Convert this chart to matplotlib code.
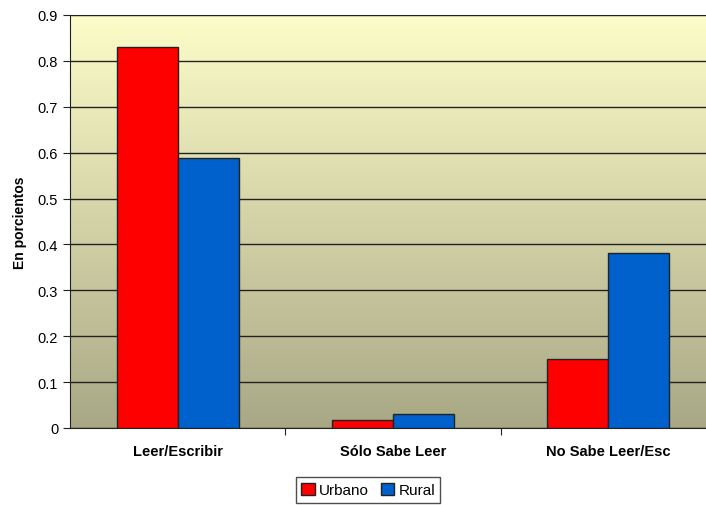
import matplotlib.pyplot as plt
import numpy as np
from matplotlib.colors import LinearSegmentedColormap

plt.rcParams['font.family'] = ['Liberation Sans', 'DejaVu Sans']

categorias = ['Leer/Escribir', 'Sólo Sabe Leer', 'No Sabe Leer/Esc']
urbano = [0.830, 0.017, 0.150]
rural = [0.588, 0.030, 0.381]
series = ['Urbano', 'Rural']

fig = plt.figure(figsize=(7.06, 5.06), dpi=100)
ax = fig.add_axes([70 / 706, 77 / 506, 646 / 706, 413 / 506])

# fondo degradado del area de trazado
fondo = LinearSegmentedColormap.from_list('fondo', ['#a9a886', '#fdfdc9'])
grad = np.linspace(0, 1, 256).reshape(-1, 1)
ax.imshow(grad, cmap=fondo, aspect='auto', origin='lower',
          extent=[-0.5, 2.5, 0, 0.9], zorder=0)

x = np.arange(len(categorias))
w = 0.284
ax.bar(x - w / 2, urbano, w, color='#ff0000', edgecolor='#222222', linewidth=1, label=series[0], zorder=3)
ax.bar(x + w / 2, rural, w, color='#0061cc', edgecolor='#222222', linewidth=1, label=series[1], zorder=3)

ax.set_xlim(-0.5, 2.5)
ax.set_ylim(0, 0.9)
ax.set_yticks(np.arange(0, 0.91, 0.1))
ax.set_yticklabels(['0'] + ['%.1f' % v for v in np.arange(0.1, 0.91, 0.1)], fontsize=10.5)
ax.yaxis.grid(True, color='#222222', linewidth=1)
ax.set_axisbelow(False)
for l in ax.get_ygridlines():
    l.set_zorder(1)

ax.set_xticks([0.5, 1.5])
ax.set_xticklabels([])
ax.tick_params(axis='both', direction='out', length=5, color='#222222')
for i, c in enumerate(categorias):
    ax.text(i, -0.05, c, ha='center', va='center', fontsize=10.5, fontweight='bold',
            transform=ax.transData)

ax.set_ylabel('En porcientos', fontsize=10, fontweight='bold', labelpad=8)

ax.spines['top'].set_color('#999999')
ax.spines['left'].set_color('#222222')
ax.spines['bottom'].set_color('#222222')
ax.spines['right'].set_visible(False)

leg = fig.legend(loc='center', bbox_to_anchor=(368 / 706, 1 - 491 / 506), ncol=2,
                 fontsize=11, frameon=True, fancybox=False, handlelength=0.9, handleheight=0.9,
                 handletextpad=0.25, columnspacing=0.8, borderpad=0.35, borderaxespad=0)
leg.get_frame().set_edgecolor('#222222')
leg.get_frame().set_linewidth(1)

fig.savefig('out.png', dpi=100)
